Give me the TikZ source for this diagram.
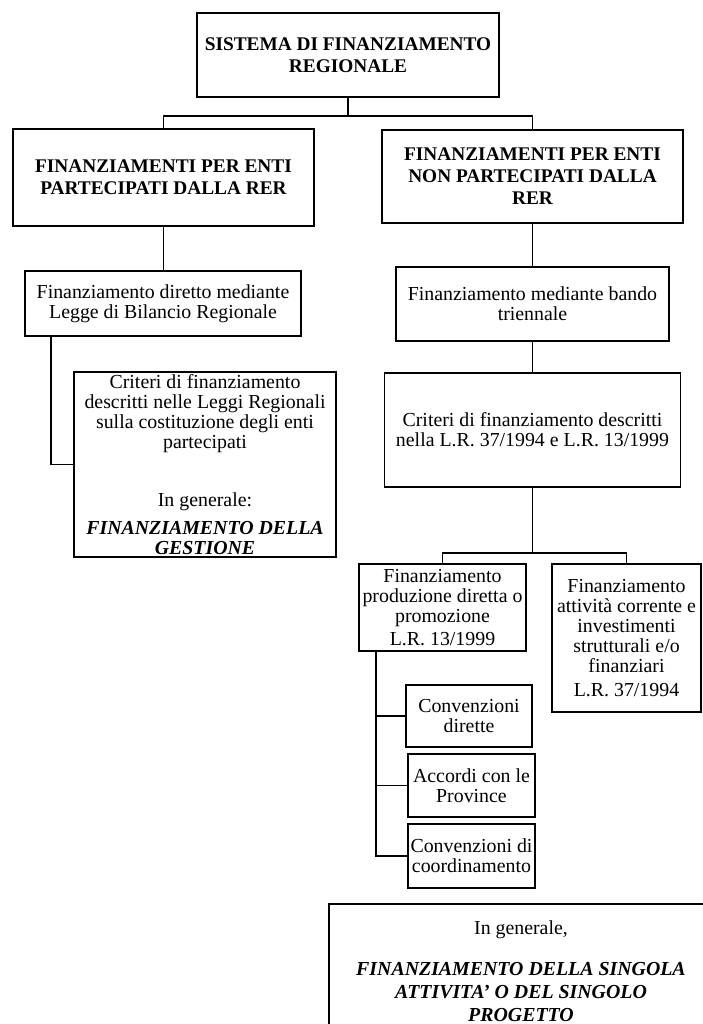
\documentclass[tikz,border=0pt]{standalone}
\usepackage{fontspec}
\setmainfont{Liberation Serif}
\newcommand{\enf}[1]{\textbf{\textit{#1}}}
\tikzset{box/.style={draw, line width=1pt, align=center, inner sep=1pt, font=\fontsize{11.3}{11.4}\selectfont}, head/.style={box, font=\bfseries\fontsize{11}{12.5}\selectfont}, link/.style={line width=1pt}}

\begin{document}
\begin{tikzpicture}
\useasboundingbox (0,0) rectangle (14.06,-20.48); \clip (0,0) rectangle (14.06,-20.48);
\node[head, minimum width=6.04cm, minimum height=1.68cm] (sistema) at (6.96,-1.10) {SISTEMA DI FINANZIAMENTO\\REGIONALE};
\node[head, minimum width=6.02cm, minimum height=1.94cm] (partec) at (3.27,-3.55) {FINANZIAMENTI PER ENTI\\PARTECIPATI DALLA RER};
\node[head, minimum width=6.02cm, minimum height=1.86cm] (nonpartec) at (10.65,-3.53) {FINANZIAMENTI PER ENTI\\NON PARTECIPATI DALLA\\RER};
\coordinate (j1) at (6.96,-2.32);
\draw[link] (sistema.south) -- (j1) -| (partec.north); \draw[link] (j1) -| (nonpartec.north);
\node[box, minimum width=5.52cm, minimum height=1.30cm] (diretto) at (3.26,-6.07) {Finanziamento diretto mediante\\Legge di Bilancio Regionale};
\node[box, minimum width=5.24cm, minimum height=3.70cm] (critpart) at (4.10,-9.29) {Criteri di finanziamento\\descritti nelle Leggi Regionali\\sulla costituzione degli enti\\partecipati\\[.76cm]In generale:\\[.16cm]\enf{FINANZIAMENTO DELLA}\\\enf{GESTIONE}};
\draw[link] (partec.south) -- (partec.south |- diretto.north);
\draw[link] ([xshift=.54cm]diretto.south west) |- (critpart.west);
\node[box, minimum width=5.46cm, minimum height=1.48cm] (bando) at (10.65,-6.08) {Finanziamento mediante bando\\triennale};
\node[box, minimum width=5.92cm, minimum height=2.28cm] (critnon) at (10.65,-8.60) {Criteri di finanziamento descritti\\nella L.R. 37/1994 e L.R. 13/1999};
\draw[link] (nonpartec.south) -- (bando.north); \draw[link] (bando.south) -- (critnon.north);
\node[box, minimum width=3.34cm, minimum height=1.74cm] (produz) at (8.85,-12.15) {Finanziamento\\produzione diretta o\\promozione\\[.06cm]L.R. 13/1999};
\node[box, minimum width=2.98cm, minimum height=2.96cm] (attiv) at (12.53,-12.76) {Finanziamento\\attività corrente e\\investimenti\\strutturali e/o\\finanziari\\[.08cm]L.R. 37/1994};
\coordinate (j2) at (10.65,-11.06);
\draw[link] (critnon.south) -- (j2) -| (produz.north); \draw[link] (j2) -| (attiv.north);
\node[box, minimum width=2.52cm, minimum height=1.24cm] (convdir) at (9.38,-14.32) {Convenzioni\\dirette};
\node[box, minimum width=2.54cm, minimum height=1.26cm] (accordi) at (9.43,-15.71) {Accordi con le\\Province};
\node[box, minimum width=2.54cm, minimum height=1.28cm] (convcoord) at (9.43,-17.12) {Convenzioni di\\coordinamento};
\draw[link] ([xshift=.36cm]produz.south west) |- (convcoord.west);
\draw[link] ([xshift=.36cm]produz.south west) |- (convdir.west);
\draw[link] ([xshift=.36cm]produz.south west) |- (accordi.west);
\node[box, minimum width=7.68cm, minimum height=2.68cm] (gen) at (10.42,-19.42) {In generale,\\[.42cm]\enf{FINANZIAMENTO DELLA SINGOLA}\\[.06cm]\enf{ATTIVITA’ O DEL SINGOLO}\\[.06cm]\enf{PROGETTO}};
\end{tikzpicture}
\end{document}
